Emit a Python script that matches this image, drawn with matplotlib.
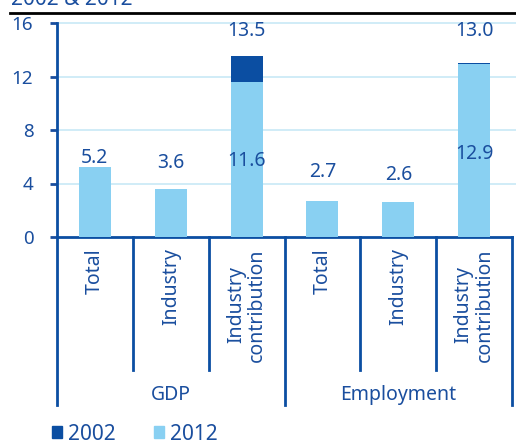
import matplotlib.pyplot as plt
from matplotlib.patches import Patch
from matplotlib.transforms import blended_transform_factory

plt.rcParams['font.family'] = ['Noto Sans', 'DejaVu Sans']

# data
categories = ['Total', 'Industry', 'Industry\ncontribution',
              'Total', 'Industry', 'Industry\ncontribution']
groups = ['GDP', 'Employment']
values_2002 = [None, None, 13.5, None, None, 13.0]
values_2012 = [5.2, 3.6, 11.6, 2.7, 2.6, 12.9]
y_ticks = [0, 4, 8, 12, 16]

# style
DARK = '#0B4EA2'
LIGHT = '#89D0F2'
TEXT = '#1A4E9E'
GRID = '#C8E9F6'
W, H = 516, 443
FS = 14

fig = plt.figure(figsize=(W / 100, H / 100), dpi=100)
ax = fig.add_axes([57 / W, (H - 237) / H, (512 - 57) / W, (237 - 23) / H])

x = list(range(len(categories)))
for i in x:
    if values_2002[i] is not None:
        ax.bar(i, values_2002[i], width=0.42, color=DARK, zorder=2)
    ax.bar(i, values_2012[i], width=0.42, color=LIGHT, zorder=3)

# value labels (y positions are layout only)
label_y = [5.9, 5.5, 5.7, 4.85, 4.6, 6.2]
for i in x:
    ax.text(i, label_y[i], f'{values_2012[i]:.1f}', ha='center', va='center',
            color=TEXT, fontsize=FS, zorder=5)
    if values_2002[i] is not None:
        ax.text(i, 15.4, f'{values_2002[i]:.1f}', ha='center', va='center',
                color=TEXT, fontsize=FS, zorder=5)

ax.set_xlim(-0.5, 5.5)
ax.set_ylim(0, 16)
ax.set_yticks(y_ticks)
ax.set_yticklabels([str(t) for t in y_ticks])
ax.tick_params(axis='y', colors=TEXT, labelsize=13.5, length=5, width=2, pad=12)
ax.set_xticks([])
for t in ax.get_yticklabels():
    t.set_color(TEXT)

for t in y_ticks[1:]:
    ax.axhline(t, xmin=0, xmax=(516 - 57) / (512 - 57), color=GRID, lw=1.2,
               zorder=1, clip_on=False)

for s in ['top', 'right']:
    ax.spines[s].set_visible(False)
ax.spines['left'].set_color(DARK)
ax.spines['left'].set_linewidth(2)
ax.spines['bottom'].set_color(DARK)
ax.spines['bottom'].set_linewidth(2)
ax.spines['left'].set_zorder(6)

# category separators and labels below axis
tr = blended_transform_factory(ax.transData, ax.transAxes)
px = 1 / (237 - 23)
for b in [-0.5, 0.5, 1.5, 2.5, 3.5, 4.5, 5.5]:
    bottom = -(405 - 237) * px if b in (-0.5, 2.5, 5.5) else -(370 - 237) * px
    ax.plot([b, b], [0, bottom], transform=tr, color=DARK, lw=2, clip_on=False)

for i, c in enumerate(categories):
    ax.text(i, -(248 - 237) * px, c, transform=tr, rotation=90, ha='center',
            va='top', color=TEXT, fontsize=FS, linespacing=1.05)

for g, cx in zip(groups, [1, 4]):
    ax.text(cx, -(395 - 237) * px, g, transform=tr, ha='center', va='center',
            color=TEXT, fontsize=FS)

# title remnant (cut off at the top edge, as in the source) and rule
fig.text(11 / W, 1 - 5 / H, '2002 & 2012', ha='left', va='baseline',
         color=TEXT, fontsize=15)
fig.add_artist(plt.Line2D([10 / W, 1], [1 - 13 / H, 1 - 13 / H],
                          color='black', lw=2, transform=fig.transFigure))

handles = [Patch(color=DARK, label='2002'), Patch(color=LIGHT, label='2012')]
leg = fig.legend(handles=handles, loc='center left',
                 bbox_to_anchor=(33 / W, 1 - 434 / H), ncol=2, frameon=False,
                 handlelength=0.5, handleheight=0.55, handletextpad=0.3,
                 columnspacing=1.8, fontsize=15)
for t in leg.get_texts():
    t.set_color(TEXT)

fig.savefig('out.png', dpi=100)
